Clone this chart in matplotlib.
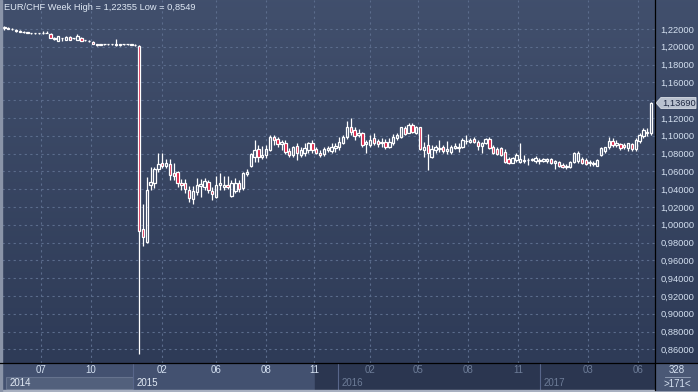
import matplotlib
matplotlib.use("Agg")
import matplotlib.pyplot as plt
import numpy as np
from matplotlib.patches import Rectangle, Polygon
from matplotlib.lines import Line2D
from matplotlib.transforms import IdentityTransform

W, H = 698, 392

# weekly EUR/CHF candles, May 2014 .. Jul 2017
opens = [
    1.2222, 1.2215, 1.2205, 1.2192, 1.2180, 1.2172, 1.2165, 1.2158, 1.2156, 1.2152,
    1.2155, 1.2160, 1.2144, 1.2100, 1.2070, 1.2098, 1.2078, 1.2112, 1.2094, 1.2080,
    1.2095, 1.2072, 1.2070, 1.2058, 1.2030, 1.2022, 1.2030, 1.2026, 1.2030, 1.2026,
    1.2020, 1.2026, 1.2030, 1.2028, 1.2022, 1.2012, 0.9949, 0.9810, 1.0447, 1.0466,
    1.0624, 1.0698, 1.0664, 1.0680, 1.0579, 1.0596, 1.0473, 1.0473, 1.0391, 1.0290,
    1.0373, 1.0436, 1.0428, 1.0484, 1.0383, 1.0316, 1.0444, 1.0428, 1.0445, 1.0324,
    1.0383, 1.0473, 1.0410, 1.0571, 1.0661, 1.0765, 1.0848, 1.0765, 1.0781, 1.0840,
    1.0987, 1.0960, 1.0904, 1.0922, 1.0832, 1.0784, 1.0885, 1.0784, 1.0803, 1.0840,
    1.0922, 1.0855, 1.0810, 1.0796, 1.0840, 1.0832, 1.0860, 1.0871, 1.0922, 1.0983,
    1.1102, 1.1065, 1.1009, 1.1028, 1.0904, 1.0897, 1.0972, 1.0945, 1.0919, 1.0930,
    1.0871, 1.0922, 1.0972, 1.0990, 1.1084, 1.1035, 1.1121, 1.1035, 1.1095, 1.0840,
    1.0897, 1.0765, 1.0840, 1.0856, 1.0871, 1.0832, 1.0821, 1.0860, 1.0872, 1.0874,
    1.0940, 1.0933, 1.0961, 1.0933, 1.0885, 1.0916, 1.0961, 1.0877, 1.0848, 1.0860,
    1.0821, 1.0736, 1.0698, 1.0728, 1.0709, 1.0728, 1.0731, 1.0726, 1.0720, 1.0728,
    1.0713, 1.0715, 1.0736, 1.0695, 1.0709, 1.0676, 1.0650, 1.0646, 1.0709, 1.0720,
    1.0736, 1.0728, 1.0700, 1.0691, 1.0661, 1.0784, 1.0832, 1.0871, 1.0945, 1.0897,
    1.0908, 1.0897, 1.0860, 1.0908, 1.0848, 1.0945, 1.1002, 1.1046, 1.1028,
]
highs = [
    1.22355, 1.2225, 1.2212, 1.2200, 1.2188, 1.2178, 1.2170, 1.2160, 1.2158, 1.2160,
    1.2180, 1.2182, 1.2150, 1.2108, 1.2125, 1.2100, 1.2120, 1.2118, 1.2104, 1.2145,
    1.2105, 1.2080, 1.2075, 1.2062, 1.2035, 1.2034, 1.2036, 1.2034, 1.2035, 1.2088,
    1.2030, 1.2034, 1.2033, 1.2032, 1.2026, 1.2020, 1.0234, 1.0537, 1.0646, 1.0646,
    1.0810, 1.0803, 1.0735, 1.0735, 1.0698, 1.0604, 1.0511, 1.0511, 1.0436, 1.0436,
    1.0522, 1.0511, 1.0522, 1.0503, 1.0428, 1.0548, 1.0579, 1.0548, 1.0548, 1.0503,
    1.0522, 1.0503, 1.0596, 1.0624, 1.0810, 1.0953, 1.0897, 1.0885, 1.0897, 1.1009,
    1.1009, 1.0990, 1.0953, 1.0953, 1.0860, 1.0885, 1.0916, 1.0877, 1.0916, 1.0933,
    1.0953, 1.0877, 1.0840, 1.0871, 1.0885, 1.0916, 1.0916, 1.0990, 1.1009, 1.1170,
    1.1197, 1.1095, 1.1073, 1.1046, 1.0953, 1.1009, 1.1028, 1.0961, 1.0972, 1.0961,
    1.0972, 1.1020, 1.1028, 1.1102, 1.1110, 1.1140, 1.1140, 1.1110, 1.1102, 1.0933,
    1.1020, 1.0897, 1.0897, 1.0953, 1.0897, 1.0945, 1.0897, 1.0916, 1.0916, 1.0972,
    1.1009, 1.0972, 1.0990, 1.0953, 1.0933, 1.0972, 1.0983, 1.0897, 1.0871, 1.0877,
    1.0848, 1.0765, 1.0765, 1.0810, 1.0916, 1.0784, 1.0747, 1.0747, 1.0773, 1.0747,
    1.0750, 1.0747, 1.0747, 1.0728, 1.0720, 1.0691, 1.0684, 1.0720, 1.0821, 1.0832,
    1.0765, 1.0747, 1.0728, 1.0720, 1.0736, 1.0877, 1.0877, 1.0990, 1.0972, 1.0953,
    1.0922, 1.0916, 1.0922, 1.0922, 1.0972, 1.1028, 1.1084, 1.1084, 1.1383,
]
lows = [
    1.2190, 1.2195, 1.2185, 1.2172, 1.2165, 1.2158, 1.2152, 1.2145, 1.2148, 1.2146,
    1.2145, 1.2150, 1.2095, 1.2082, 1.2065, 1.2065, 1.2072, 1.2072, 1.2088, 1.2075,
    1.2062, 1.2068, 1.2058, 1.2028, 1.2014, 1.2018, 1.2020, 1.2020, 1.2018, 1.2012,
    1.2012, 1.2020, 1.2022, 1.2018, 1.2012, 0.8549, 0.9765, 0.9792, 1.0391, 1.0413,
    1.0593, 1.0635, 1.0635, 1.0503, 1.0503, 1.0425, 1.0391, 1.0361, 1.0260, 1.0234,
    1.0335, 1.0309, 1.0391, 1.0361, 1.0279, 1.0298, 1.0391, 1.0391, 1.0399, 1.0309,
    1.0354, 1.0372, 1.0391, 1.0548, 1.0653, 1.0709, 1.0709, 1.0736, 1.0747, 1.0830,
    1.0897, 1.0878, 1.0840, 1.0796, 1.0759, 1.0765, 1.0728, 1.0765, 1.0773, 1.0803,
    1.0812, 1.0796, 1.0765, 1.0776, 1.0821, 1.0803, 1.0821, 1.0840, 1.0908, 1.0961,
    1.1009, 1.0953, 1.0990, 1.0878, 1.0810, 1.0878, 1.0897, 1.0878, 1.0878, 1.0848,
    1.0860, 1.0897, 1.0953, 1.0972, 1.1009, 1.1028, 1.1028, 1.1020, 1.0840, 1.0765,
    1.0616, 1.0747, 1.0803, 1.0821, 1.0810, 1.0796, 1.0796, 1.0848, 1.0821, 1.0860,
    1.0908, 1.0916, 1.0922, 1.0840, 1.0810, 1.0908, 1.0848, 1.0796, 1.0784, 1.0773,
    1.0691, 1.0684, 1.0691, 1.0709, 1.0698, 1.0698, 1.0672, 1.0720, 1.0698, 1.0684,
    1.0709, 1.0698, 1.0684, 1.0630, 1.0653, 1.0635, 1.0630, 1.0635, 1.0691, 1.0691,
    1.0684, 1.0672, 1.0665, 1.0665, 1.0661, 1.0773, 1.0803, 1.0848, 1.0878, 1.0878,
    1.0840, 1.0848, 1.0832, 1.0832, 1.0832, 1.0922, 1.0972, 1.0998, 1.1009,
]
closes = [
    1.2215, 1.2205, 1.2195, 1.2180, 1.2172, 1.2165, 1.2160, 1.2156, 1.2152, 1.2156,
    1.2160, 1.2155, 1.2100, 1.2090, 1.2120, 1.2095, 1.2112, 1.2080, 1.2098, 1.2120,
    1.2070, 1.2076, 1.2064, 1.2032, 1.2018, 1.2030, 1.2026, 1.2030, 1.2026, 1.2020,
    1.2026, 1.2030, 1.2028, 1.2022, 1.2015, 0.9934, 0.9866, 1.0391, 1.0478, 1.0624,
    1.0680, 1.0664, 1.0690, 1.0560, 1.0552, 1.0466, 1.0444, 1.0399, 1.0298, 1.0383,
    1.0447, 1.0458, 1.0495, 1.0391, 1.0346, 1.0447, 1.0466, 1.0445, 1.0430, 1.0473,
    1.0473, 1.0399, 1.0579, 1.0596, 1.0795, 1.0840, 1.0765, 1.0787, 1.0848, 1.0987,
    1.0953, 1.0908, 1.0933, 1.0821, 1.0784, 1.0871, 1.0803, 1.0840, 1.0860, 1.0922,
    1.0840, 1.0810, 1.0784, 1.0848, 1.0860, 1.0877, 1.0885, 1.0933, 1.0990, 1.1095,
    1.1046, 1.0998, 1.1035, 1.0897, 1.0930, 1.0953, 1.0922, 1.0908, 1.0930, 1.0871,
    1.0933, 1.0990, 1.1009, 1.1095, 1.1020, 1.1121, 1.1046, 1.1102, 1.0848, 1.0870,
    1.0810, 1.0848, 1.0877, 1.0866, 1.0832, 1.0848, 1.0877, 1.0885, 1.0866, 1.0953,
    1.0945, 1.0953, 1.0933, 1.0885, 1.0922, 1.0961, 1.0860, 1.0810, 1.0796, 1.0784,
    1.0709, 1.0698, 1.0747, 1.0784, 1.0736, 1.0720, 1.0728, 1.0734, 1.0747, 1.0713,
    1.0742, 1.0738, 1.0691, 1.0713, 1.0661, 1.0646, 1.0657, 1.0709, 1.0803, 1.0803,
    1.0698, 1.0683, 1.0706, 1.0683, 1.0728, 1.0860, 1.0871, 1.0945, 1.0897, 1.0922,
    1.0860, 1.0871, 1.0916, 1.0848, 1.0953, 1.1009, 1.1065, 1.1028, 1.1369,
]

# x-axis labels (bar positions of the month grid lines) and year blocks
month_labels = ["07", "10", "02", "06", "08", "11", "02", "05", "08", "11", "03", "06"]
month_pos = [9.5, 22.5, 41, 55, 68, 80.5, 95, 107.5, 120.5, 133.5, 151.5, 164.5]
year_labels = ["2014", "2015", "2016", "2017"]
year_start = [0.4, 33.4, 86.7, 139.1]
price_ticks = np.round(np.arange(0.86, 1.2201, 0.02), 2)

BG_TOP = np.array([0.255, 0.31, 0.425])
BG_BOT = np.array([0.175, 0.225, 0.335])
GRID = "#5b6c8c"
LABEL = "#d4e0f0"
DIM = "#6d7c97"
RED = "#d8163c"
FONT = "Liberation Sans"
FS = 7.0

o, h, l, c = (np.array(v) for v in (opens, highs, lows, closes))
idx = np.arange(len(o))

fig = plt.figure(figsize=(W / 100, H / 100), dpi=100)

# gradient backdrop for the whole picture
bg = fig.add_axes([0, 0, 1, 1], zorder=-10)
t = np.linspace(0, 1, 256)[:, None, None]
bg.imshow(BG_TOP + (BG_BOT - BG_TOP) * t, aspect="auto", extent=[0, 1, 0, 1])
bg.axis("off")

ax = fig.add_axes([2 / W, 29 / H, 653 / W, 363 / H])
ax.patch.set_alpha(0)
ax.set_xlim(-0.6, 169.0)
ax.set_ylim(0.8447, 1.2526)
for s in ax.spines.values():
    s.set_visible(False)

ax.set_yticks(price_ticks)
ax.set_yticklabels(["" if abs(v - 1.14) < 1e-6 else f"{v:.5f}".replace(".", ",")
                    for v in price_ticks], family=FONT)
ax.yaxis.tick_right()
ax.tick_params(axis="y", length=0, pad=4, labelcolor=LABEL, labelsize=6.7)
ax.set_xticks(month_pos)
ax.tick_params(axis="x", length=0, labelbottom=False)
ax.grid(True, color=GRID, lw=0.8, dashes=(2, 3))
ax.set_axisbelow(True)

# candles: wicks outside the body, hollow up bodies, red down bodies
up = c >= o
body_top = np.maximum(o, c)
body_bot = np.minimum(o, c)
ax.vlines(idx, body_top, h, color="white", lw=0.9, zorder=3)
ax.vlines(idx, l, body_bot, color="white", lw=0.9, zorder=3)
ax.bar(idx[up], (body_top - body_bot)[up], bottom=body_bot[up], width=0.62,
       facecolor="none", edgecolor="white", lw=0.9, zorder=4)
ax.bar(idx[~up], (body_top - body_bot)[~up], bottom=body_bot[~up], width=0.62,
       facecolor=RED, edgecolor="white", lw=0.9, zorder=4)

fig.text(4 / W, 1 - 7.5 / H,
         f"EUR/CHF Week High = {h.max():.5f} Low = {l.min():.4f}".replace(".", ","),
         color="#dfe8f4", fontsize=6.7, family=FONT, va="center", ha="left")

# bottom time strip
axb = fig.add_axes([2 / W, 2 / H, 653 / W, 27 / H])
axb.set_xlim(ax.get_xlim())
axb.set_ylim(0, 2)
axb.axis("off")
axb.add_patch(Rectangle((-0.6, 0), 170, 2, color="#435170", zorder=0))
axb.add_patch(Rectangle((year_start[0], 0.08), year_start[1] - year_start[0], 0.9,
                        facecolor="#52607c", edgecolor="#66738e", lw=0.8, zorder=1))
axb.add_patch(Rectangle((80.6, 0), 90, 2, color="#2b3650", zorder=1))
for ys in year_start[1:]:
    axb.plot([ys, ys], [0, 2], color="#58668a", lw=0.8, zorder=2)
for lab, pos in zip(month_labels, month_pos):
    axb.text(pos, 1.45, lab, color=LABEL if pos < 81 else DIM, fontsize=FS,
             family=FONT, ha="center", va="center", zorder=3)
for lab, pos in zip(year_labels, year_start):
    axb.text(pos + 0.9, 0.5, lab, color="#e2eaf5" if pos < 81 else DIM,
             fontsize=FS, family=FONT, ha="left", va="center", zorder=3)

# frame lines
fig.add_artist(Line2D([0, 1], [29 / H, 29 / H], color="black", lw=0.9))
fig.add_artist(Line2D([655 / W, 655 / W], [2 / H, 1], color="black", lw=0.9))
fig.add_artist(Rectangle((0, 0), 1, 2 / H, transform=fig.transFigure, color="#a8b0c0"))
fig.add_artist(Rectangle((0, 0), 1.5 / W, 1, transform=fig.transFigure, color="#8a94a8"))

# bottom-right counter box
fig.add_artist(Rectangle((656 / W, 2 / H), 42 / W, 26.5 / H, transform=fig.transFigure,
                         color="#4a5875"))
fig.text(677 / W, 1 - 370 / H, "328", color=LABEL, fontsize=FS, family=FONT,
         ha="center", va="center")
fig.text(677 / W, 1 - 384 / H, ">171<", color=LABEL, fontsize=FS, family=FONT,
         ha="center", va="center")
fig.add_artist(Line2D([665 / W, 690 / W], [1 - 377 / H, 1 - 377 / H], color="#9aa6bc", lw=0.6))

# last price tag on the scale
fig.canvas.draw()
_, yc = ax.transData.transform((0, c[-1]))
tag = Polygon([(656, yc), (661, yc + 5.5), (696, yc + 5.5), (696, yc - 5.5), (661, yc - 5.5)],
              closed=True, transform=IdentityTransform(), facecolor="#b9c1cf",
              edgecolor="#d8dde6", lw=0.6)
fig.add_artist(tag)
fig.text(662 / W, yc / H, f"{c[-1]:.5f}".replace(".", ","), color="#1c2640",
         fontsize=6.7, family=FONT, ha="left", va="center")

fig.savefig("out.png", dpi=100)
